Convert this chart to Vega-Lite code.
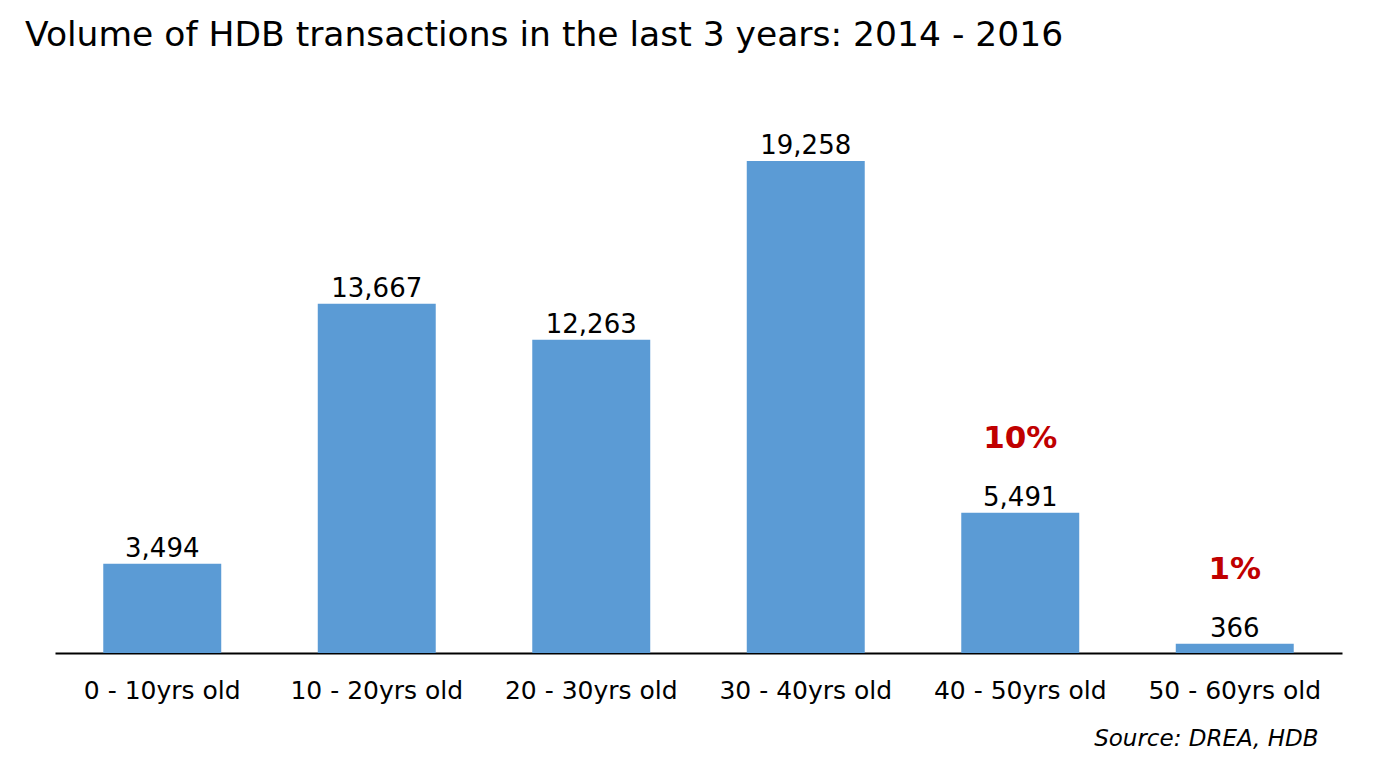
{
  "$schema": "https://vega.github.io/schema/vega-lite/v6.json",
  "width": 1287,
  "height": 553,
  "autosize": {"type": "none"},
  "padding": {"left": 55, "top": 100, "right": 43, "bottom": 115},
  "background": "white",
  "config": {"view": {"stroke": null}, "font": "DejaVu Sans"},
  "title": {
    "text": "Volume of HDB transactions in the last 3 years: 2014 - 2016",
    "anchor": "start",
    "frame": "group",
    "dx": -30,
    "offset": 17,
    "fontSize": 34.5,
    "fontWeight": "normal",
    "color": "black"
  },
  "data": {
    "values": [
      {"age": "0 - 10yrs old", "count": 3494, "pct": ""},
      {"age": "10 - 20yrs old", "count": 13667, "pct": ""},
      {"age": "20 - 30yrs old", "count": 12263, "pct": ""},
      {"age": "30 - 40yrs old", "count": 19258, "pct": ""},
      {"age": "40 - 50yrs old", "count": 5491, "pct": "10%"},
      {"age": "50 - 60yrs old", "count": 366, "pct": "1%"}
    ]
  },
  "encoding": {
    "x": {
      "field": "age",
      "type": "nominal",
      "sort": null,
      "scale": {"paddingInner": 0.45, "paddingOuter": 0.225},
      "axis": {
        "title": "Source: DREA, HDB",
        "titleFontStyle": "italic",
        "titleFontWeight": "normal",
        "titleFontSize": 23,
        "titleAlign": "right",
        "titleBaseline": "alphabetic",
        "titleX": 1263,
        "titleY": 92,
        "labelAngle": 0,
        "labelFontSize": 25,
        "labelColor": "black",
        "labelPadding": 25,
        "ticks": false,
        "domainColor": "black",
        "domainWidth": 2
      }
    },
    "y": {
      "field": "count",
      "type": "quantitative",
      "scale": {"domain": [0, 21645], "nice": false},
      "axis": null
    }
  },
  "layer": [
    {"mark": {"type": "bar", "color": "#5B9BD5"}},
    {
      "mark": {"type": "text", "baseline": "alphabetic", "dy": -7, "fontSize": 26, "color": "black"},
      "encoding": {"text": {"field": "count", "type": "quantitative", "format": ","}}
    },
    {
      "mark": {"type": "text", "baseline": "alphabetic", "dy": -65, "fontSize": 31, "fontWeight": "bold", "color": "#C00000"},
      "encoding": {"text": {"field": "pct", "type": "nominal"}}
    }
  ]
}
